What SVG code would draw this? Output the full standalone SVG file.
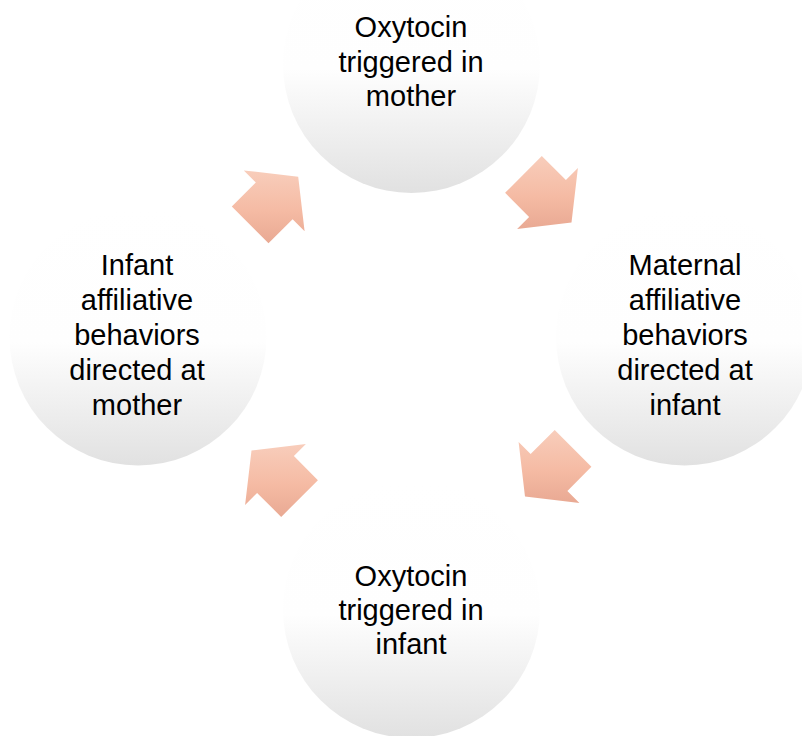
<svg xmlns="http://www.w3.org/2000/svg" width="802" height="736" viewBox="0 0 802 736">
  <defs>
    <linearGradient id="circleFill" x1="0" y1="0" x2="0" y2="1">
      <stop offset="0" stop-color="#ffffff"/>
      <stop offset="0.52" stop-color="#fefefe"/>
      <stop offset="1" stop-color="#e1e1e1"/>
    </linearGradient>
    <linearGradient id="arrowFill" x1="0" y1="0" x2="0" y2="1">
      <stop offset="0" stop-color="#f8cdbb"/>
      <stop offset="0.55" stop-color="#f5bba4"/>
      <stop offset="1" stop-color="#e9a993"/>
    </linearGradient>
  </defs>
  <style>
    .node { fill: url(#circleFill); }
    .arrow { fill: url(#arrowFill); }
    .label { font-family: "Liberation Sans", Arial, sans-serif; font-size: 29px; fill: #000000; text-anchor: middle; }
  </style>
  <rect width="802" height="736" fill="#ffffff"/>

  <g id="node-top">
    <circle class="node" cx="411.5" cy="64.5" r="128.5"/>
    <text class="label"><tspan x="411" y="37">Oxytocin</tspan><tspan x="411" y="71.5">triggered in</tspan><tspan x="411" y="106">mother</tspan></text>
  </g>

  <g id="node-right">
    <circle class="node" cx="684.5" cy="337" r="128.5"/>
    <text class="label"><tspan x="685" y="275">Maternal</tspan><tspan x="685" y="310">affiliative</tspan><tspan x="685" y="345">behaviors</tspan><tspan x="685" y="380">directed at</tspan><tspan x="685" y="415">infant</tspan></text>
  </g>

  <g id="node-bottom">
    <circle class="node" cx="411.5" cy="609.5" r="128.5"/>
    <text class="label"><tspan x="411" y="586">Oxytocin</tspan><tspan x="411" y="620">triggered in</tspan><tspan x="411" y="654">infant</tspan></text>
  </g>

  <g id="node-left">
    <circle class="node" cx="138" cy="337" r="128.5"/>
    <text class="label"><tspan x="137" y="275">Infant</tspan><tspan x="137" y="310">affiliative</tspan><tspan x="137" y="345">behaviors</tspan><tspan x="137" y="380">directed at</tspan><tspan x="137" y="415">mother</tspan></text>
  </g>

  <g id="connectors">
    <polygon class="arrow" points="541.8,156.1 565.9,180.1 577.9,168.1 571.5,222.5 517.1,228.9 529.1,216.9 505.1,192.8"/>
    <polygon class="arrow" points="591.4,466.8 567.4,490.9 579.4,502.9 525,496.5 518.6,442.1 530.6,454.1 554.7,430.1"/>
    <polygon class="arrow" points="281.2,516.9 257.1,492.9 245.1,504.9 251.5,450.5 305.9,444.1 293.9,456.1 317.9,480.2"/>
    <polygon class="arrow" points="231.8,206.5 255.8,182.4 243.8,170.4 298.2,176.8 304.6,231.2 292.6,219.2 268.5,243.2"/>
  </g>
</svg>
